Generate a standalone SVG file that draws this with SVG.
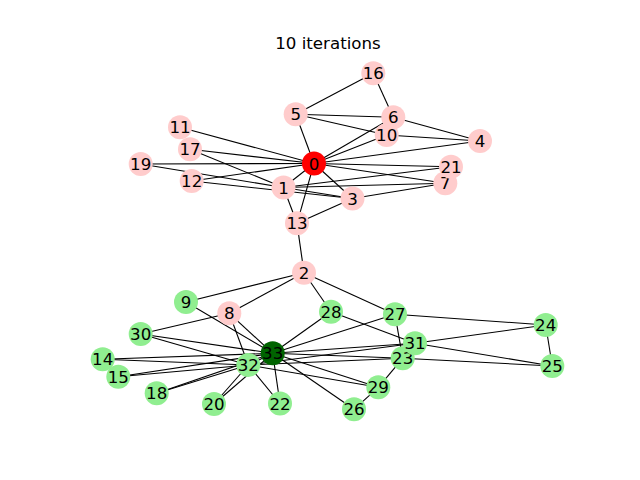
<svg xmlns="http://www.w3.org/2000/svg" width="640" height="480" viewBox="0 0 640 480">
<style>
.e{stroke:#000;stroke-width:1.1;fill:none}
.n circle{stroke:none}
.p{fill:#ffcccc}
.g{fill:#90ee90}
text{font-family:"DejaVu Sans",sans-serif;font-size:16.67px;text-anchor:middle;fill:#000}
</style>
<rect width="640" height="480" fill="#fff"/>
<text x="328" y="49">10 iterations</text>
<g id="edges" class="e">
<path d="M180,127.3L314,163.5"/>
<path d="M190,149.3L314,163.5"/>
<path d="M190,149.3L283.5,187.5"/>
<path d="M140.7,164L314,163.5"/>
<path d="M140.7,164L283.5,187.5"/>
<path d="M191.7,181L314,163.5"/>
<path d="M191.7,181L352.5,198.5"/>
<path d="M283.5,187.5L314,163.5"/>
<path d="M283.5,187.5L297,223.3"/>
<path d="M283.5,187.5L352.5,198.5"/>
<path d="M283.5,187.5L445.3,183.3"/>
<path d="M283.5,187.5L451,166.7"/>
<path d="M314,163.5L297,223.3"/>
<path d="M314,163.5L352.5,198.5"/>
<path d="M314,163.5L445.3,183.3"/>
<path d="M314,163.5L451,166.7"/>
<path d="M314,163.5L480,141"/>
<path d="M314,163.5L386.7,135"/>
<path d="M314,163.5L393.3,117.3"/>
<path d="M314,163.5L295.7,114.3"/>
<path d="M295.7,114.3L373.3,73.3"/>
<path d="M295.7,114.3L393.3,117.3"/>
<path d="M295.7,114.3L386.7,135"/>
<path d="M373.3,73.3L393.3,117.3"/>
<path d="M393.3,117.3L480,141"/>
<path d="M386.7,135L480,141"/>
<path d="M352.5,198.5L445.3,183.3"/>
<path d="M352.5,198.5L297,223.3"/>
<path d="M297,223.3L304,272.7"/>
<path d="M304,272.7L186,302"/>
<path d="M304,272.7L229.3,313.3"/>
<path d="M304,272.7L331,311.7"/>
<path d="M304,272.7L395,314.3"/>
<path d="M186,302L272.7,353.3"/>
<path d="M229.3,313.3L140.7,334"/>
<path d="M229.3,313.3L248.3,365"/>
<path d="M229.3,313.3L272.7,353.3"/>
<path d="M140.7,334L248.3,365"/>
<path d="M140.7,334L272.7,353.3"/>
<path d="M102.7,359.3L248.3,365"/>
<path d="M102.7,359.3L272.7,353.3"/>
<path d="M118.3,376.7L248.3,365"/>
<path d="M118.3,376.7L272.7,353.3"/>
<path d="M156.7,393.3L248.3,365"/>
<path d="M156.7,393.3L272.7,353.3"/>
<path d="M214,404L248.3,365"/>
<path d="M214,404L272.7,353.3"/>
<path d="M280,403.5L248.3,365"/>
<path d="M280,403.5L272.7,353.3"/>
<path d="M248.3,365L272.7,353.3"/>
<path d="M331,311.7L272.7,353.3"/>
<path d="M331,311.7L415,343.3"/>
<path d="M395,314.3L272.7,353.3"/>
<path d="M395,314.3L545.7,325"/>
<path d="M395,314.3L402.7,358.3"/>
<path d="M415,343.3L545.7,325"/>
<path d="M415,343.3L552.3,366"/>
<path d="M415,343.3L272.7,353.3"/>
<path d="M415,343.3L248.3,365"/>
<path d="M402.7,358.3L552.3,366"/>
<path d="M402.7,358.3L272.7,353.3"/>
<path d="M402.7,358.3L248.3,365"/>
<path d="M402.7,358.3L378.3,387.3"/>
<path d="M545.7,325L552.3,366"/>
<path d="M378.3,387.3L272.7,353.3"/>
<path d="M378.3,387.3L248.3,365"/>
<path d="M378.3,387.3L354,409.3"/>
<path d="M354,409.3L272.7,353.3"/>
</g>
<g id="n0" class="n"><circle cx="314" cy="163.5" r="12" fill="#ff0000"/><text x="314" y="169.5">0</text></g>
<g id="n1" class="n"><circle class="p" cx="283.5" cy="187.5" r="12"/><text x="283.5" y="193.5">1</text></g>
<g id="n2" class="n"><circle class="p" cx="304" cy="272.7" r="12"/><text x="304" y="278.7">2</text></g>
<g id="n3" class="n"><circle class="p" cx="352.5" cy="198.5" r="12"/><text x="352.5" y="204.5">3</text></g>
<g id="n4" class="n"><circle class="p" cx="480" cy="141" r="12"/><text x="480" y="147">4</text></g>
<g id="n5" class="n"><circle class="p" cx="295.7" cy="114.3" r="12"/><text x="295.7" y="120.3">5</text></g>
<g id="n6" class="n"><circle class="p" cx="393.3" cy="117.3" r="12"/><text x="393.3" y="123.3">6</text></g>
<g id="n7" class="n"><circle class="p" cx="445.3" cy="183.3" r="12"/><text x="445.3" y="189.3">7</text></g>
<g id="n8" class="n"><circle class="p" cx="229.3" cy="313.3" r="12"/><text x="229.3" y="319.3">8</text></g>
<g id="n9" class="n"><circle class="g" cx="186" cy="302" r="12"/><text x="186" y="308">9</text></g>
<g id="n10" class="n"><circle class="p" cx="386.7" cy="135" r="12"/><text x="386.7" y="141">10</text></g>
<g id="n11" class="n"><circle class="p" cx="180" cy="127.3" r="12"/><text x="180" y="133.3">11</text></g>
<g id="n12" class="n"><circle class="p" cx="191.7" cy="181" r="12"/><text x="191.7" y="187">12</text></g>
<g id="n13" class="n"><circle class="p" cx="297" cy="223.3" r="12"/><text x="297" y="229.3">13</text></g>
<g id="n14" class="n"><circle class="g" cx="102.7" cy="359.3" r="12"/><text x="102.7" y="365.3">14</text></g>
<g id="n15" class="n"><circle class="g" cx="118.3" cy="376.7" r="12"/><text x="118.3" y="382.7">15</text></g>
<g id="n16" class="n"><circle class="p" cx="373.3" cy="73.3" r="12"/><text x="373.3" y="79.3">16</text></g>
<g id="n17" class="n"><circle class="p" cx="190" cy="149.3" r="12"/><text x="190" y="155.3">17</text></g>
<g id="n18" class="n"><circle class="g" cx="156.7" cy="393.3" r="12"/><text x="156.7" y="399.3">18</text></g>
<g id="n19" class="n"><circle class="p" cx="140.7" cy="164" r="12"/><text x="140.7" y="170">19</text></g>
<g id="n20" class="n"><circle class="g" cx="214" cy="404" r="12"/><text x="214" y="410">20</text></g>
<g id="n21" class="n"><circle class="p" cx="451" cy="166.7" r="12"/><text x="451" y="172.7">21</text></g>
<g id="n22" class="n"><circle class="g" cx="280" cy="403.5" r="12"/><text x="280" y="409.5">22</text></g>
<g id="n23" class="n"><circle class="g" cx="402.7" cy="358.3" r="12"/><text x="402.7" y="364.3">23</text></g>
<g id="n24" class="n"><circle class="g" cx="545.7" cy="325" r="12"/><text x="545.7" y="331">24</text></g>
<g id="n25" class="n"><circle class="g" cx="552.3" cy="366" r="12"/><text x="552.3" y="372">25</text></g>
<g id="n26" class="n"><circle class="g" cx="354" cy="409.3" r="12"/><text x="354" y="415.3">26</text></g>
<g id="n27" class="n"><circle class="g" cx="395" cy="314.3" r="12"/><text x="395" y="320.3">27</text></g>
<g id="n28" class="n"><circle class="g" cx="331" cy="311.7" r="12"/><text x="331" y="317.7">28</text></g>
<g id="n29" class="n"><circle class="g" cx="378.3" cy="387.3" r="12"/><text x="378.3" y="393.3">29</text></g>
<g id="n30" class="n"><circle class="g" cx="140.7" cy="334" r="12"/><text x="140.7" y="340">30</text></g>
<g id="n31" class="n"><circle class="g" cx="415" cy="343.3" r="12"/><text x="415" y="349.3">31</text></g>
<g id="n32" class="n"><circle class="g" cx="248.3" cy="365" r="12"/><text x="248.3" y="371">32</text></g>
<g id="n33" class="n"><circle cx="272.7" cy="353.3" r="12" fill="#006400"/><text x="272.7" y="359.3">33</text></g>
</svg>
